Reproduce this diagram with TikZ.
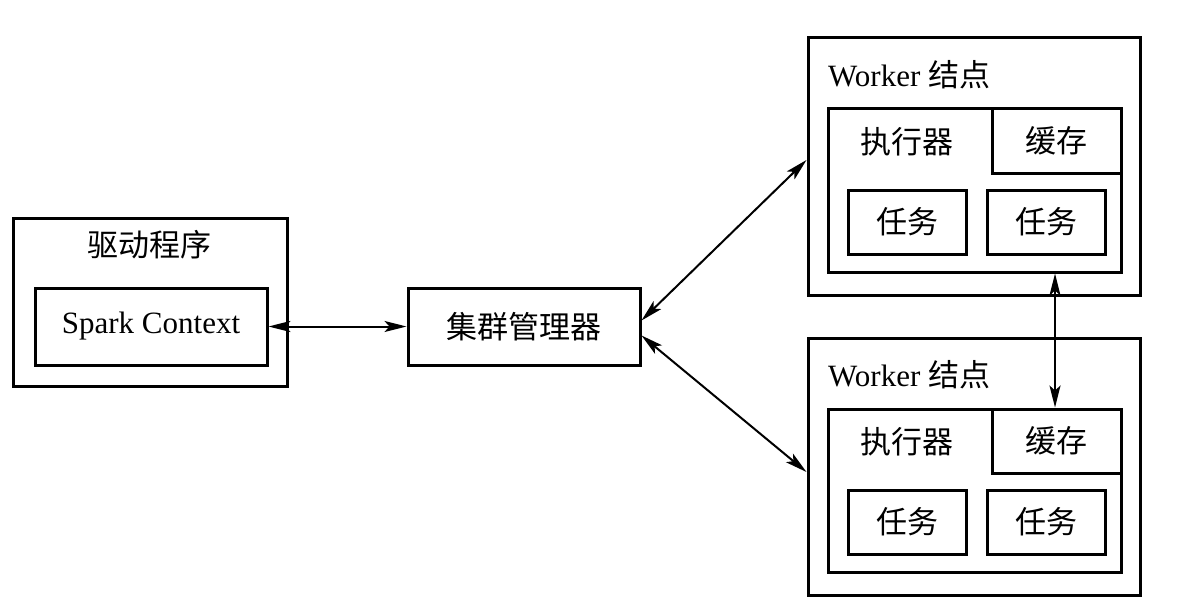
\documentclass[tikz,border=0pt]{standalone}
\usepackage{fontspec}
\setmainfont{Liberation Serif}
\newfontfamily\cjk{Noto Sans CJK SC}
\usetikzlibrary{arrows.meta,calc}
\tikzset{
  box/.style={draw=black, line width=3pt, rectangle, inner sep=0pt},
  lbl/.style={inner sep=0pt, font=\fontsize{31}{36}\selectfont},
  link/.style={line width=2pt, {Stealth[length=22pt,width=11pt,inset=5pt]}-{Stealth[length=22pt,width=11pt,inset=5pt]}}
}
\begin{document}
\begin{tikzpicture}[x=1pt,y=-1pt]
\useasboundingbox[fill=white] (0,0) rectangle (1177,615);
% driver
\node[box, minimum width=274pt, minimum height=168pt] (drv) at (150,302) {};
\node[lbl] (drvt) at (149,245) {\cjk 驱动程序};
\node[box, minimum width=232pt, minimum height=77pt] (sc) at (151,326.5) {};
\node[lbl] (sct) at (sc.center) {Spark Context};
% cluster manager
\node[box, minimum width=232pt, minimum height=77pt] (cm) at (524,326.5) {};
\node[lbl] (cmt) at (cm.center) {\cjk 集群管理器};
% workers
\foreach \n/\dy in {1/0,2/300}{
  \node[box, minimum width=332pt, minimum height=257pt] (w\n) at (974,166.5+\dy) {};
  \node[lbl, anchor=west] (w\n t) at (828,75+\dy) {Worker {\cjk 结点}};
  \node[box, minimum width=293pt, minimum height=163pt] (ex\n) at (974.5,190.5+\dy) {};
  \node[box, minimum width=129pt, minimum height=64pt] (ca\n) at (1056.5,141+\dy) {};
  \node[lbl] (ca\n t) at (ca\n.center) {\cjk 缓存};
  \node[box, minimum width=118pt, minimum height=64pt] (ta\n) at (907,222+\dy) {};
  \node[lbl] (ta\n t) at (ta\n.center) {\cjk 任务};
  \node[box, minimum width=118pt, minimum height=64pt] (tb\n) at (1046,222+\dy) {};
  \node[lbl] (tb\n t) at (tb\n.center) {\cjk 任务};
  \node[lbl] (ex\n t) at (907,142+\dy) {\cjk 执行器};
}
% connectors
\draw[link] (sc.east) -- (cm.west);
\draw[link] ($(cm.east)+(0,-6)$) -- ($(w1.west)+(0,-6.5)$);
\draw[link] ($(cm.east)+(0,9)$) -- ($(w2.west)+(0,5.5)$);
\coordinate (vt) at ($(ex1.south)+(80.5,0)$);
\draw[link] (vt) -- (vt |- ca2.north);
\end{tikzpicture}
\end{document}
